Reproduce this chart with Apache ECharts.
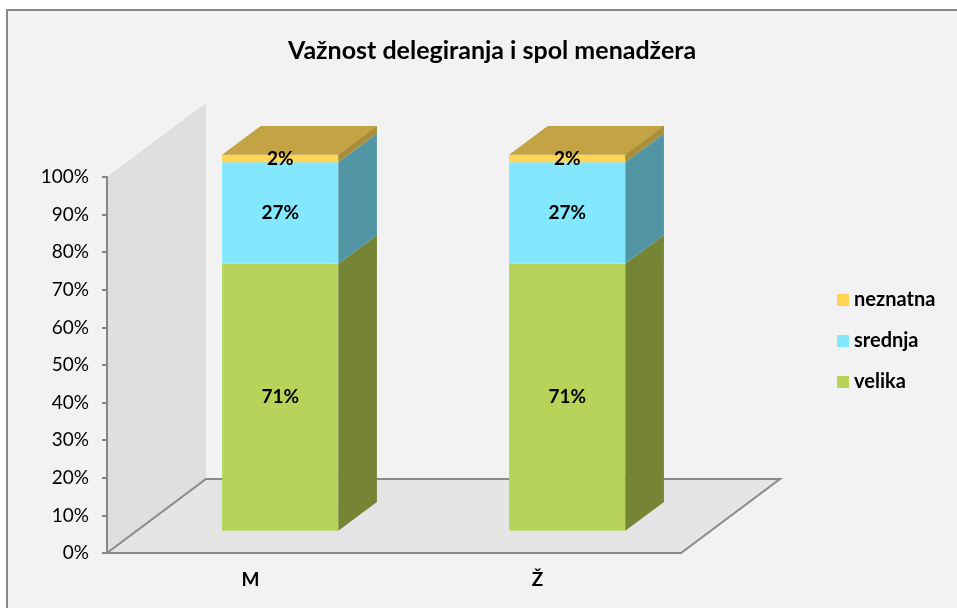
<!DOCTYPE html>
<html>
<head>
<meta charset="utf-8">
<script src="https://cdn.jsdelivr.net/npm/echarts@6/dist/echarts.min.js"></script>
<style>
  html, body { margin: 0; padding: 0; background: #ffffff; }
  #chart { width: 957px; height: 608px; }
</style>
</head>
<body>
<div id="chart"></div>
<script>
// data
const categories = ['M', 'Ž'];
const velika = [71, 71];
const srednja = [27, 27];
const neznatna = [2, 2];
const yTicks = [0, 10, 20, 30, 40, 50, 60, 70, 80, 90, 100];

// 3d look (pixels / fractions)
const DEPTH_X = 99;
const DEPTH_Y = -74;
const BAR_FRONT = 0.30;   // depth position of the bar front face
const BAR_BACK = 0.69;    // depth position of the bar back face
const BAR_WIDTH = 0.405;  // share of a category band
const FONT = 'Lato';

const chart = echarts.init(document.getElementById('chart'));

// stack the segments
function stackRows(values, below) {
    return values.map((v, i) => [i, below[i], below[i] + v, v]);
}
const zeros = categories.map(() => 0);
const velikaRows = stackRows(velika, zeros);
const srednjaRows = stackRows(srednja, velika);
const neznatnaRows = stackRows(neznatna, velika.map((v, i) => v + srednja[i]));

function makeBarRender(front, side, top, drawTop) {
    return function (params, api) {
        const cat = api.value(0);
        const lo = api.coord([cat, api.value(1)]);
        const hi = api.coord([cat, api.value(2)]);
        const w = api.size([1, 0])[0] * BAR_WIDTH;
        const ox = BAR_FRONT * DEPTH_X, oy = BAR_FRONT * DEPTH_Y;
        const dx = (BAR_BACK - BAR_FRONT) * DEPTH_X, dy = (BAR_BACK - BAR_FRONT) * DEPTH_Y;
        const x0 = lo[0] - w / 2 + ox, x1 = lo[0] + w / 2 + ox;
        const yb = lo[1] + oy, yt = hi[1] + oy;
        const children = [
            { type: 'rect', shape: { x: x0, y: yt, width: x1 - x0, height: yb - yt }, style: { fill: front } },
            { type: 'polygon', shape: { points: [[x1, yt], [x1, yb], [x1 + dx, yb + dy], [x1 + dx, yt + dy]] }, style: { fill: side } }
        ];
        if (drawTop) {
            children.push({ type: 'polygon', shape: { points: [[x0, yt], [x1, yt], [x1 + dx, yt + dy], [x0 + dx, yt + dy]] }, style: { fill: top } });
            children.push({ type: 'polygon', shape: { points: [[x1, yt], [x1 + dx, yt + dy], [x1 + dx, yt + dy + 4], [x1, yt + 4]] }, style: { fill: side } });
        }
        children.push({
            type: 'text', z2: 10,
            style: {
                text: api.value(3) + '%', x: (x0 + x1) / 2, y: (yb + yt) / 2,
                align: 'center', verticalAlign: 'middle',
                fontFamily: FONT, fontWeight: 'bold', fontSize: 19, fill: '#000'
            }
        });
        return { type: 'group', children: children };
    };
}

function renderFloor(params, api) {
    const cs = params.coordSys;
    const xl = cs.x, xr = cs.x + cs.width, yt = cs.y, yb = cs.y + cs.height;
    return {
        type: 'group',
        children: [
            { type: 'polygon', shape: { points: [[xl, yb], [xl, yt], [xl + DEPTH_X, yt + DEPTH_Y], [xl + DEPTH_X, yb + DEPTH_Y]] }, style: { fill: '#dfdfdf' } },
            { type: 'polygon', shape: { points: [[xl, yb], [xr, yb], [xr + DEPTH_X, yb + DEPTH_Y], [xl + DEPTH_X, yb + DEPTH_Y]] }, style: { fill: '#e5e5e5', stroke: '#8a8a8a', lineWidth: 2 } }
        ]
    };
}

const option = {
    backgroundColor: '#ffffff',
    animation: false,
    graphic: [
        { type: 'rect', z: -10, shape: { x: 7, y: 10, width: 970, height: 640 }, style: { fill: '#f2f2f2', stroke: '#888888', lineWidth: 2 } }
    ],
    title: {
        text: 'Važnost delegiranja i spol menadžera',
        left: 487, top: 33, textAlign: 'center',
        textStyle: { fontFamily: FONT, fontWeight: 'bold', fontSize: 25, color: '#000' }
    },
    legend: {
        data: ['neznatna', 'srednja', 'velika'],
        orient: 'vertical', left: 832, top: 285,
        icon: 'rect', itemWidth: 12, itemHeight: 12, itemGap: 21,
        selectedMode: false,
        textStyle: { fontFamily: FONT, fontWeight: 'bold', fontSize: 20, color: '#000' }
    },
    grid: { left: 107, top: 177, width: 574, height: 376 },
    xAxis: {
        type: 'category', data: categories, z: 10,
        axisLine: { lineStyle: { color: '#868686', width: 2 } },
        axisTick: { length: 6, lineStyle: { color: '#868686', width: 2 } },
        axisLabel: { margin: 17, fontFamily: FONT, fontWeight: 'bold', fontSize: 19, color: '#000' }
    },
    yAxis: {
        type: 'value', min: 0, max: 100, interval: 10, z: 10,
        axisLine: { show: true, lineStyle: { color: '#868686', width: 2 } },
        axisTick: { show: true, length: 5, lineStyle: { color: '#868686', width: 2 } },
        splitLine: { show: false },
        axisLabel: {
            margin: 18, fontFamily: FONT, fontSize: 19, color: '#000',
            formatter: v => yTicks.indexOf(v) >= 0 ? v + '%' : ''
        }
    },
    series: [
        { name: 'floor', type: 'custom', renderItem: renderFloor, data: [[0, 0]], silent: true, z: 1 },
        { name: 'velika', type: 'custom', itemStyle: { color: '#b7d359' }, renderItem: makeBarRender('#b7d359', '#758535', '#8fa344', false), encode: { x: 0, y: [1, 2] }, data: velikaRows, z: 2 },
        { name: 'srednja', type: 'custom', itemStyle: { color: '#83e8fe' }, renderItem: makeBarRender('#83e8fe', '#5295a5', '#6ab8c9', false), encode: { x: 0, y: [1, 2] }, data: srednjaRows, z: 3 },
        { name: 'neznatna', type: 'custom', itemStyle: { color: '#ffd555' }, renderItem: makeBarRender('#ffd555', '#a88f3b', '#c3a343', true), encode: { x: 0, y: [1, 2] }, data: neznatnaRows, z: 4 }
    ]
};
chart.setOption(option);
</script>
</body>
</html>
